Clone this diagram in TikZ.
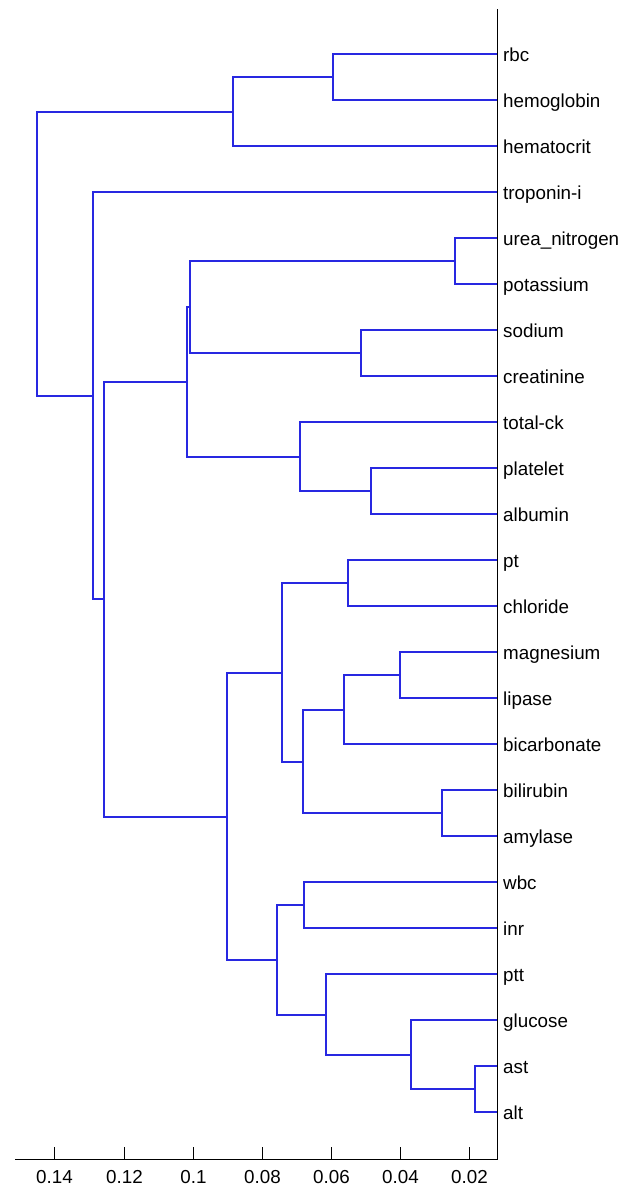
\documentclass[tikz,border=0pt]{standalone}
\usepackage{fontspec}
\setmainfont{Liberation Sans}
\definecolor{dblue}{RGB}{40,40,225}
\begin{document}
\begin{tikzpicture}[x=1pt,y=-1pt,
  dend/.style={draw=dblue, line width=1.6pt},
  axline/.style={draw=black, line width=1pt},
  lab/.style={anchor=base west, inner sep=0pt, font=\fontsize{18.8}{20}\selectfont},
  tlab/.style={anchor=base, inner sep=0pt, font=\fontsize{18.8}{20}\selectfont}]
\useasboundingbox (0,0) rectangle (637,1189);
\fill[white] (0,0) rectangle (637,1189);
% leaves
\foreach \nm/\txt/\yy in {rbc/rbc/54, hemo/hemoglobin/100, hemat/hematocrit/146, trop/troponin-i/192,
  urea/urea\_nitrogen/238, pot/potassium/284, sod/sodium/330, creat/creatinine/376,
  tck/total-ck/422, plat/platelet/468, alb/albumin/514, pt/pt/560, chl/chloride/606,
  mag/magnesium/652, lip/lipase/698, bic/bicarbonate/744, bil/bilirubin/790,
  amy/amylase/836, wbc/wbc/882, inr/inr/928, ptt/ptt/974, glu/glucose/1020,
  ast/ast/1066, alt/alt/1112}{
  \coordinate (\nm) at (497,\yy);
  \node[lab] (L\nm) at (503,{\yy+7}) {\txt};
}
% internal nodes
\coordinate (n1) at (333,77);
\coordinate (n2) at (233,112);
\coordinate (n3) at (455,261);
\coordinate (n4) at (361,353);
\coordinate (n5) at (190,307);
\coordinate (n6) at (371,491);
\coordinate (n7) at (300,457);
\coordinate (n8) at (187,382);
\coordinate (n9) at (348,583);
\coordinate (n10) at (400,675);
\coordinate (n11) at (344,710);
\coordinate (n12) at (442,813);
\coordinate (n13) at (303,762);
\coordinate (n14) at (282,673);
\coordinate (n15) at (304,905);
\coordinate (n16) at (475,1089);
\coordinate (n17) at (411,1055);
\coordinate (n18) at (326,1015);
\coordinate (n19) at (277,960);
\coordinate (n20) at (227,817);
\coordinate (n21) at (104,599);
\coordinate (n22) at (93,396);
\coordinate (n23) at (37,254);
% brackets
\draw[dend] (rbc) -| (n1) |- (hemo);
\draw[dend] (n1) -| (n2) |- (hemat);
\draw[dend] (urea) -| (n3) |- (pot);
\draw[dend] (sod) -| (n4) |- (creat);
\draw[dend] (n3) -| (n5) |- (n4);
\draw[dend] (plat) -| (n6) |- (alb);
\draw[dend] (tck) -| (n7) |- (n6);
\draw[dend] (n5) -| (n8) |- (n7);
\draw[dend] (pt) -| (n9) |- (chl);
\draw[dend] (mag) -| (n10) |- (lip);
\draw[dend] (n10) -| (n11) |- (bic);
\draw[dend] (bil) -| (n12) |- (amy);
\draw[dend] (n11) -| (n13) |- (n12);
\draw[dend] (n9) -| (n14) |- (n13);
\draw[dend] (wbc) -| (n15) |- (inr);
\draw[dend] (ast) -| (n16) |- (alt);
\draw[dend] (glu) -| (n17) |- (n16);
\draw[dend] (ptt) -| (n18) |- (n17);
\draw[dend] (n15) -| (n19) |- (n18);
\draw[dend] (n14) -| (n20) |- (n19);
\draw[dend] (n8) -| (n21) |- (n20);
\draw[dend] (trop) -| (n22) |- (n21);
\draw[dend] (n2) -| (n23) |- (n22);
% axes
\coordinate (axT) at (497.5,9);
\coordinate (axB) at (497.5,1159.5);
\coordinate (axL) at (15,1159.5);
\draw[axline] (axT) -- (axB) -- (axL);
\foreach \t/\xx in {0.14/54.5,0.12/124.5,0.1/193.5,0.08/262.5,0.06/331.5,0.04/400.5,0.02/469.5}{
  \draw[axline] (\xx,1159.5) -- (\xx,1147);
  \node[tlab] at (\xx,1183) {\t};
}
\end{tikzpicture}
\end{document}
